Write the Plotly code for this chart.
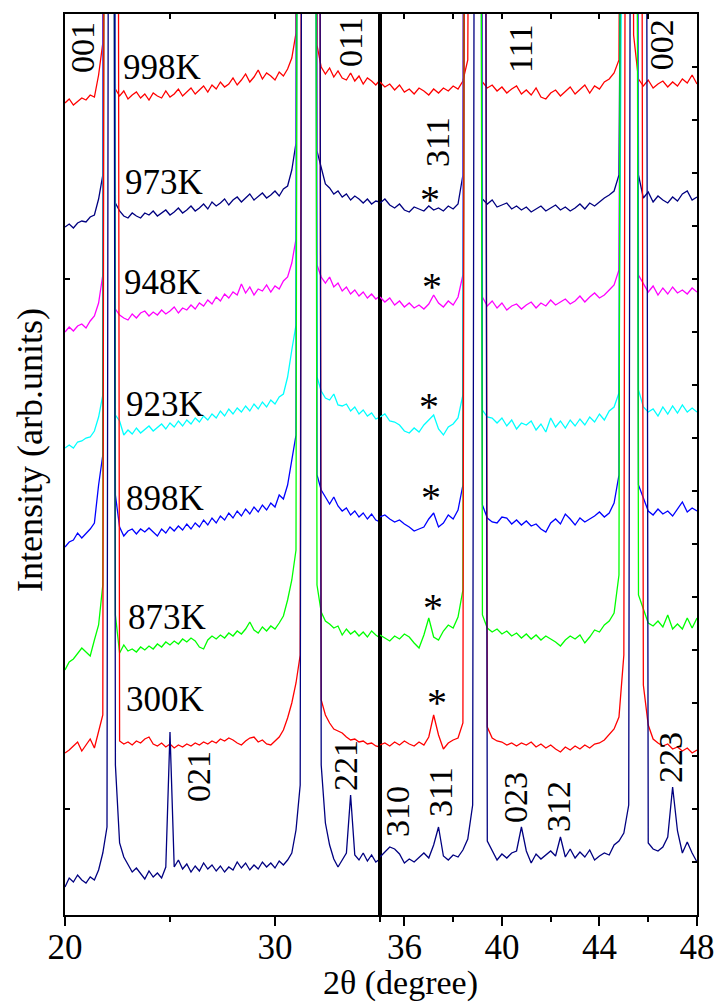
import plotly.graph_objects as go

# ---------------- data (2theta in degrees, intensity in arb. units) ----------------
two_theta_low = [20.0, 20.2, 20.4, 20.6, 20.8, 21.0, 21.2, 21.4, 21.6, 21.8,
                 22.0, 22.2, 22.4, 22.6, 22.8, 23.0, 23.2, 23.4, 23.6, 23.8,
                 24.0, 24.2, 24.4, 24.6, 24.8, 25.0, 25.2, 25.4, 25.6, 25.8,
                 26.0, 26.2, 26.4, 26.6, 26.8, 27.0, 27.2, 27.4, 27.6, 27.8,
                 28.0, 28.2, 28.4, 28.6, 28.8, 29.0, 29.2, 29.4, 29.6, 29.8,
                 30.0, 30.2, 30.4, 30.6, 30.8, 31.0, 31.2, 31.4, 31.6, 31.8,
                 32.0, 32.2, 32.4, 32.6, 32.8, 33.0, 33.2, 33.4, 33.6, 33.8,
                 34.0, 34.2, 34.4, 34.6, 34.8, 35.0]
two_theta_high = [35.0, 35.2, 35.4, 35.6, 35.8, 36.0, 36.2, 36.4, 36.6, 36.8,
                  37.0, 37.2, 37.4, 37.6, 37.8, 38.0, 38.2, 38.4, 38.6, 38.8,
                  39.0, 39.2, 39.4, 39.6, 39.8, 40.0, 40.2, 40.4, 40.6, 40.8,
                  41.0, 41.2, 41.4, 41.6, 41.8, 42.0, 42.2, 42.4, 42.6, 42.8,
                  43.0, 43.2, 43.4, 43.6, 43.8, 44.0, 44.2, 44.4, 44.6, 44.8,
                  45.0, 45.2, 45.4, 45.6, 45.8, 46.0, 46.2, 46.4, 46.6, 46.8,
                  47.0, 47.2, 47.4, 47.6, 47.8, 48.0]

I_998K_low = [812, 816, 810, 814, 817, 815, 820, 818, 840, 872,
              3000, 3000, 826, 819, 824, 816, 820, 823, 817, 821,
              815, 822, 819, 817, 824, 818, 821, 826, 819, 823,
              827, 821, 825, 829, 823, 830, 826, 833, 828, 831,
              837, 830, 835, 841, 833, 838, 845, 836, 842, 839,
              835, 843, 839, 846, 857, 882, 3000, 3000, 3000, 3000,
              870, 848, 841, 847, 838, 844, 837, 835, 842, 834,
              839, 831, 837, 834, 830, 835]
I_998K_high = [833, 828, 831, 825, 830, 823, 826, 821, 827, 824,
               820, 826, 822, 827, 824, 829, 826, 834, 855, 3000,
               3000, 833, 827, 830, 824, 828, 822, 826, 829, 821,
               825, 820, 827, 818, 816, 822, 825, 819, 824, 828,
               821, 826, 830, 822, 829, 826, 833, 836, 842, 855,
               3000, 3000, 880, 836, 829, 835, 827, 831, 834, 828,
               833, 829, 836, 832, 840, 831]

I_973K_low = [688, 691, 687, 692, 694, 693, 698, 700, 716, 740,
              3000, 3000, 712, 704, 699, 697, 702, 699, 697, 702,
              700, 704, 699, 702, 705, 700, 703, 707, 702, 705,
              709, 704, 707, 711, 706, 713, 709, 712, 716, 710,
              715, 718, 713, 717, 721, 715, 719, 722, 717, 720,
              724, 719, 726, 729, 745, 772, 3000, 3000, 3000, 3000,
              764, 746, 731, 727, 721, 724, 718, 721, 715, 719,
              716, 712, 716, 711, 714, 713]
I_973K_high = [712, 716, 710, 707, 711, 705, 703, 708, 706, 704,
               709, 705, 707, 704, 709, 706, 711, 740, 3000, 3000,
               3000, 716, 711, 715, 708, 710, 712, 706, 709, 705,
               708, 703, 706, 709, 704, 707, 710, 705, 708, 704,
               707, 711, 706, 712, 709, 713, 717, 720, 724, 740,
               3000, 3000, 3000, 740, 717, 723, 713, 719, 715, 712,
               718, 714, 721, 724, 715, 718]

I_948K_low = [583, 588, 584, 589, 591, 587, 594, 599, 612, 640,
              3000, 3000, 606, 600, 597, 595, 601, 597, 602, 604,
              599, 603, 600, 605, 601, 604, 608, 602, 607, 605,
              610, 606, 612, 609, 615, 611, 618, 614, 621, 617,
              623, 620, 631, 622, 628, 620, 626, 624, 630, 623,
              629, 626, 634, 638, 652, 676, 3000, 3000, 3000, 3000,
              650, 638, 632, 638, 628, 632, 624, 628, 621, 625,
              619, 623, 617, 621, 616, 619]
I_948K_high = [618, 613, 617, 610, 614, 608, 612, 607, 610, 606,
               611, 620, 612, 608, 614, 610, 618, 640, 3000, 3000,
               3000, 618, 609, 614, 607, 612, 605, 609, 611, 606,
               610, 613, 607, 612, 609, 615, 610, 613, 616, 611,
               614, 619, 613, 618, 622, 617, 620, 625, 630, 645,
               3000, 3000, 3000, 640, 631, 623, 629, 620, 627, 621,
               628, 622, 625, 621, 627, 623]

I_923K_low = [467, 470, 467, 473, 474, 477, 478, 484, 498, 520,
              3000, 3000, 500, 494, 480, 485, 481, 487, 482, 486,
              489, 484, 488, 491, 486, 492, 488, 494, 489, 495,
              491, 497, 493, 499, 495, 501, 497, 504, 499, 506,
              501, 507, 503, 509, 504, 511, 506, 513, 508, 515,
              511, 518, 521, 538, 565, 590, 3000, 3000, 3000, 3000,
              538, 524, 517, 515, 521, 510, 509, 511, 504, 508,
              501, 505, 499, 502, 496, 498]
I_923K_high = [498, 501, 494, 493, 490, 484, 482, 487, 483, 490,
               495, 500, 486, 480, 488, 491, 497, 520, 3000, 3000,
               3000, 505, 498, 497, 492, 497, 489, 495, 486, 492,
               490, 494, 485, 491, 483, 497, 488, 494, 487, 495,
               489, 496, 490, 498, 493, 501, 495, 504, 508, 522,
               3000, 3000, 3000, 525, 508, 503, 506, 499, 508, 501,
               509, 502, 510, 503, 507, 503]

I_898K_low = [368, 373, 375, 382, 377, 381, 386, 392, 430, 460,
              3000, 3000, 420, 388, 379, 384, 386, 381, 386, 383,
              387, 383, 379, 386, 382, 388, 384, 389, 385, 391,
              386, 392, 388, 395, 390, 397, 392, 399, 395, 402,
              397, 404, 399, 406, 401, 408, 403, 410, 405, 412,
              408, 420, 416, 430, 455, 480, 3000, 3000, 3000, 3000,
              440, 425, 418, 411, 418, 409, 404, 407, 400, 404,
              398, 402, 396, 401, 395, 393]
I_898K_high = [398, 400, 396, 393, 395, 391, 388, 384, 386, 388,
               396, 402, 388, 392, 400, 396, 405, 430, 3000, 3000,
               3000, 410, 397, 393, 392, 398, 397, 391, 395, 390,
               394, 389, 391, 386, 383, 392, 396, 391, 401, 396,
               390, 397, 393, 396, 399, 403, 398, 402, 412, 440,
               3000, 3000, 3000, 430, 418, 404, 400, 406, 401, 404,
               399, 406, 413, 403, 407, 404]

I_873K_low = [245, 253, 256, 262, 267, 263, 259, 275, 290, 330,
              3000, 3000, 300, 262, 270, 264, 266, 263, 268, 265,
              269, 266, 271, 268, 273, 270, 274, 271, 276, 273,
              277, 274, 268, 266, 275, 279, 276, 280, 277, 282,
              279, 284, 281, 286, 293, 285, 282, 288, 284, 289,
              286, 292, 299, 315, 335, 365, 3000, 3000, 3000, 3000,
              330, 303, 294, 291, 287, 289, 280, 286, 281, 284,
              279, 283, 278, 284, 280, 277]
I_873K_high = [280, 277, 274, 279, 276, 281, 278, 272, 267, 280,
               297, 278, 275, 284, 290, 287, 298, 325, 3000, 3000,
               3000, 300, 287, 283, 286, 281, 284, 279, 282, 277,
               281, 276, 280, 275, 279, 276, 273, 269, 275, 279,
               276, 280, 272, 278, 285, 283, 290, 294, 302, 340,
               3000, 3000, 3000, 320, 306, 292, 289, 294, 288, 300,
               286, 291, 286, 297, 287, 297]

I_300K_low = [162, 165, 169, 173, 164, 170, 176, 167, 183, 200,
              3000, 3000, 3000, 174, 171, 173, 170, 174, 172, 176,
              178, 171, 169, 172, 168, 171, 167, 170, 168, 171,
              169, 172, 170, 173, 171, 174, 172, 176, 174, 177,
              175, 172, 170, 174, 177, 178, 173, 175, 171, 170,
              174, 178, 185, 197, 212, 232, 260, 3000, 3000, 3000,
              3000, 215, 200, 192, 186, 184, 182, 178, 175, 176,
              173, 174, 171, 172, 169, 168]
I_300K_high = [170, 172, 169, 173, 170, 174, 171, 169, 173, 170,
               178, 200, 180, 166, 172, 175, 177, 192, 3000, 3000,
               3000, 3000, 188, 177, 174, 173, 170, 172, 169, 172,
               170, 173, 168, 171, 167, 170, 166, 163, 168, 165,
               169, 166, 170, 167, 171, 172, 175, 180, 186, 198,
               260, 3000, 3000, 3000, 230, 190, 176, 172, 169, 171,
               166, 168, 164, 167, 162, 165]

I_ref_low = [28, 37, 33, 40, 35, 32, 38, 35, 45, 62,
             88, 3000, 150, 72, 58, 50, 43, 47, 42, 36,
             44, 38, 42, 37, 48, 183, 48, 55, 46, 51,
             43, 49, 44, 52, 46, 50, 44, 49, 43, 48,
             45, 53, 47, 52, 45, 50, 46, 53, 48, 52,
             47, 54, 50, 55, 62, 85, 130, 3000, 3000, 3000,
             3000, 150, 92, 70, 56, 48, 55, 62, 120, 60,
             55, 62, 54, 60, 53, 56]
I_ref_high = [58, 63, 68, 66, 61, 52, 56, 53, 58, 62,
              57, 70, 88, 59, 55, 60, 58, 65, 76, 110,
              3000, 3000, 74, 64, 55, 61, 57, 62, 64, 88,
              64, 52, 61, 56, 60, 64, 59, 78, 58, 66,
              57, 63, 58, 65, 55, 59, 62, 60, 70, 74,
              82, 110, 3000, 3000, 3000, 72, 66, 64, 68, 78,
              128, 84, 62, 73, 62, 53]

temperature_labels = ["998K", "973K", "948K", "923K", "898K", "873K", "300K", ""]
curve_colors = ["#FF0000", "#000080", "#FF00FF", "#00FFFF", "#0000FF", "#00FF00", "#FF0000", "#000080"]
low_series = [I_998K_low, I_973K_low, I_948K_low, I_923K_low, I_898K_low, I_873K_low, I_300K_low, I_ref_low]
high_series = [I_998K_high, I_973K_high, I_948K_high, I_923K_high, I_898K_high, I_873K_high, I_300K_high, I_ref_high]

# label anchors (2theta, intensity)
temp_label_x = [24.62, 24.71, 24.67, 24.76, 24.76, 24.86, 24.76]
temp_label_y = [848, 733, 633, 511, 417, 298, 216]

hkl_low = [("001", 20.81, 867), ("011", 33.57, 873), ("021", 26.33, 139), ("221", 33.33, 150)]
hkl_high = [("111", 40.74, 866), ("002", 46.53, 870), ("311", 37.34, 773),
            ("310", 35.70, 103), ("311", 37.46, 123), ("023", 40.54, 117),
            ("312", 42.30, 108), ("223", 46.89, 158)]
star_x = [37.05, 37.13, 37.01, 37.09, 37.17, 37.34]
star_y = [716, 629, 509, 418, 308, 213]

# ---------------- figure ----------------
FONT = '"Liberation Serif", "Times New Roman", Times, serif'
fig = go.Figure()
for lab, col, lo, hi in zip(temperature_labels, curve_colors, low_series, high_series):
    fig.add_trace(go.Scatter(x=two_theta_low, y=lo, xaxis="x", yaxis="y", mode="lines",
                             line=dict(color=col, width=1.3), name=lab, showlegend=False,
                             hoverinfo="skip"))
    fig.add_trace(go.Scatter(x=two_theta_high, y=hi, xaxis="x2", yaxis="y2", mode="lines",
                             line=dict(color=col, width=1.3), name=lab, showlegend=False,
                             hoverinfo="skip"))
# carriers for the top tick axes
fig.add_trace(go.Scatter(x=[None], y=[None], xaxis="x3", yaxis="y", showlegend=False))
fig.add_trace(go.Scatter(x=[None], y=[None], xaxis="x4", yaxis="y2", showlegend=False))

BREAK = (380 - 65) / 632
frame = dict(showline=True, linecolor="black", linewidth=2, mirror=True,
             zeroline=False, showgrid=False, automargin=False)

fig.update_layout(
    width=718, height=1005,
    margin=dict(l=65, r=21, t=14, b=90, autoexpand=False),
    plot_bgcolor="white", paper_bgcolor="white",
    font=dict(family=FONT, size=36, color="black"),
    showlegend=False,
    xaxis=dict(domain=[0, BREAK], range=[20, 35], anchor="y",
               tickmode="linear", tick0=20, dtick=10,
               ticks="outside", ticklen=9, tickwidth=2, tickcolor="black",
               ticklabelstandoff=-9,
               minor=dict(tickmode="linear", tick0=20, dtick=5, ticks="outside",
                          ticklen=5, tickwidth=2, tickcolor="black"),
               tickfont=dict(family=FONT, size=35), **frame),
    xaxis2=dict(domain=[BREAK, 1], range=[35, 48], anchor="y2",
                tickmode="linear", tick0=36, dtick=4,
                ticks="outside", ticklen=9, tickwidth=2, tickcolor="black",
                ticklabelstandoff=-9,
                minor=dict(tickmode="linear", tick0=36, dtick=2, ticks="outside",
                           ticklen=5, tickwidth=2, tickcolor="black"),
                tickfont=dict(family=FONT, size=35), **frame),
    xaxis3=dict(overlaying="x", side="top", anchor="y", range=[20, 35],
                tickmode="linear", tick0=20, dtick=5, ticks="inside", ticklen=5,
                tickwidth=1.5, tickcolor="black", showticklabels=False,
                showline=False, showgrid=False, zeroline=False),
    xaxis4=dict(overlaying="x2", side="top", anchor="y2", range=[35, 48],
                tickmode="linear", tick0=36, dtick=2, ticks="inside", ticklen=5,
                tickwidth=1.5, tickcolor="black", showticklabels=False,
                showline=False, showgrid=False, zeroline=False),
    yaxis=dict(domain=[0, 1], range=[0, 901], anchor="x",
               tickmode="array", tickvals=[106, 636], ticks="inside", ticklen=5,
               tickwidth=1.5, tickcolor="black", showticklabels=False, **frame),
    yaxis2=dict(domain=[0, 1], range=[0, 901], anchor="x2", side="right",
                tickmode="linear", tick0=0, dtick=53, ticks="inside", ticklen=5,
                tickwidth=1.5, tickcolor="black", showticklabels=False, **frame),
)

ann = []
for lab, x, y in zip(temperature_labels[:7], temp_label_x, temp_label_y):
    ann.append(dict(text=lab, x=x, y=y, xref="x", yref="y", showarrow=False,
                    xanchor="center", yanchor="middle", font=dict(family=FONT, size=35)))
for lab, x, y in hkl_low:
    ann.append(dict(text=lab, x=x, y=y, xref="x", yref="y", showarrow=False, textangle=-90,
                    xanchor="center", yanchor="middle", font=dict(family=FONT, size=34)))
for lab, x, y in hkl_high:
    ann.append(dict(text=lab, x=x, y=y, xref="x2", yref="y2", showarrow=False, textangle=-90,
                    xanchor="center", yanchor="middle", font=dict(family=FONT, size=34)))
for x, y in zip(star_x, star_y):
    ann.append(dict(text="*", x=x, y=y, xref="x2", yref="y2", showarrow=False,
                    xanchor="center", yanchor="middle", font=dict(family=FONT, size=40)))
ann.append(dict(text="2θ (degree)", x=(400 - 65) / 632, y=(915 - 983) / 901,
                xref="paper", yref="paper", showarrow=False, xanchor="center",
                yanchor="middle", font=dict(family=FONT, size=34)))
ann.append(dict(text="Intensity (arb.units)", x=(30 - 65) / 632, y=(915 - 450) / 901,
                xref="paper", yref="paper", showarrow=False, textangle=-90,
                xanchor="center", yanchor="middle", font=dict(family=FONT, size=36)))
fig.update_layout(annotations=ann)

fig.write_html("out.html")
